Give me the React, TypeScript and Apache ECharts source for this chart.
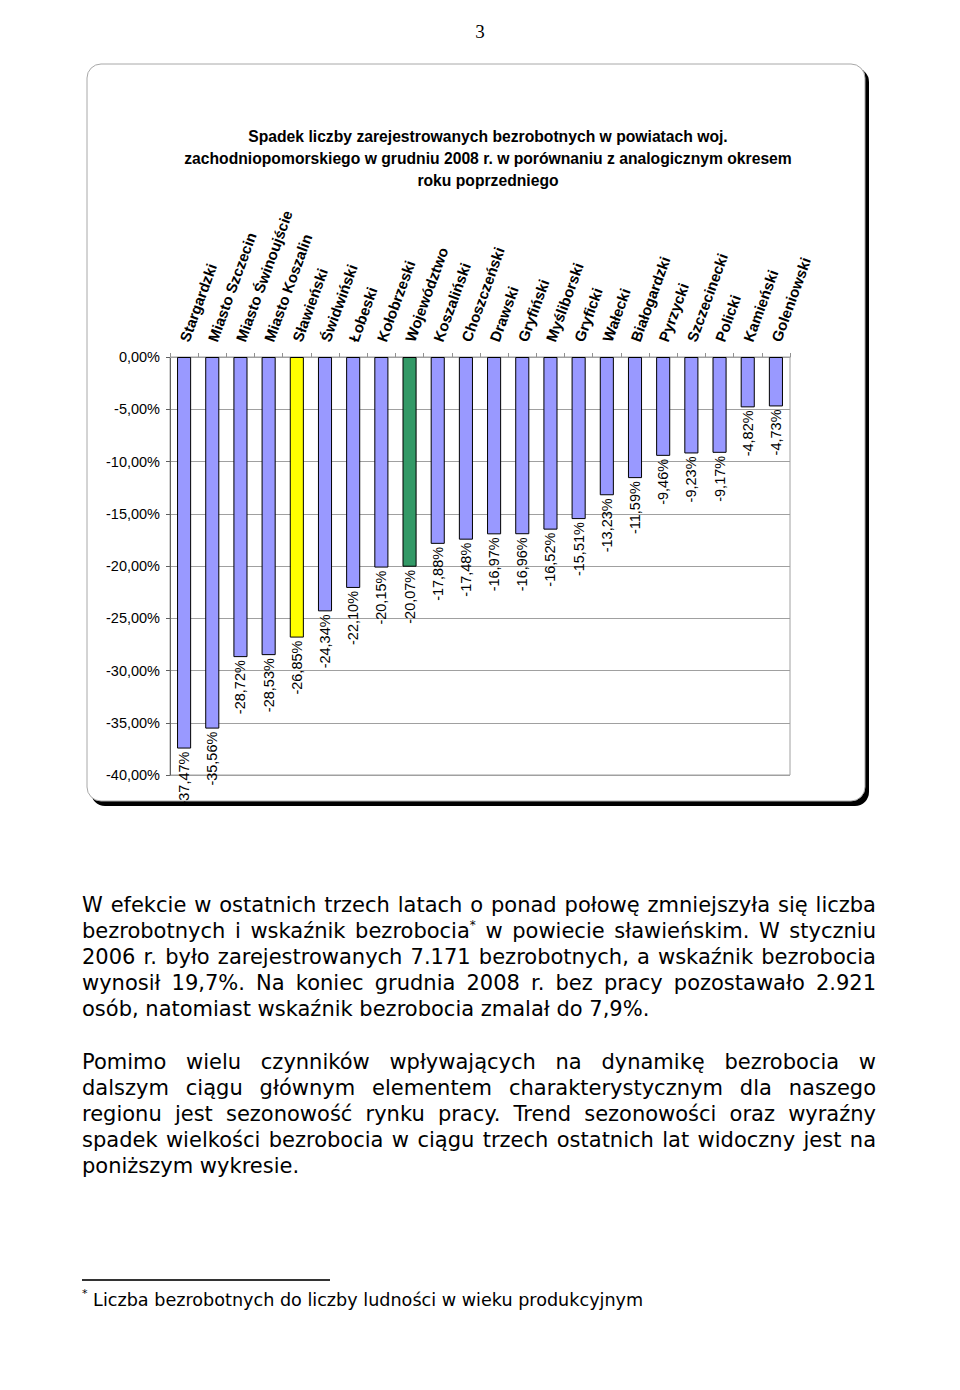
import React, { useEffect, useRef } from "react";
import * as echarts from "echarts";

const categories = [
  "Stargardzki", "Miasto Szczecin", "Miasto Świnoujście", "Miasto Koszalin", "Sławieński",
  "Świdwiński", "Łobeski", "Kołobrzeski", "Województwo", "Koszaliński", "Choszczeński",
  "Drawski", "Gryfiński", "Myśliborski", "Gryficki", "Wałecki", "Białogardzki",
  "Pyrzycki", "Szczecinecki", "Policki", "Kamieński", "Goleniowski",
];
const values = [
  -37.47, -35.56, -28.72, -28.53, -26.85, -24.34, -22.1, -20.15, -20.07, -17.88, -17.48,
  -16.97, -16.96, -16.52, -15.51, -13.23, -11.59, -9.46, -9.23, -9.17, -4.82, -4.73,
];
const specialColors: Record<string, string> = { "Sławieński": "#FFFF00", "Województwo": "#339966" };
const baseColor = "#9999FF";
const yMin = -40;
const yMax = 0;
const yStep = 5;

const titleLines = [
  "Spadek liczby zarejestrowanych bezrobotnych w powiatach woj.",
  "zachodniopomorskiego w grudniu 2008 r. w porównaniu z analogicznym okresem",
  "roku poprzedniego",
];

const para1 = [
  "W efekcie w ostatnich trzech latach o ponad połowę zmniejszyła się liczba",
  "bezrobotnych i wskaźnik bezrobocia|* w powiecie sławieńskim. W styczniu",
  "2006 r. było zarejestrowanych 7.171 bezrobotnych, a wskaźnik bezrobocia",
  "wynosił 19,7%. Na koniec grudnia 2008 r. bez pracy pozostawało 2.921",
  "osób, natomiast wskaźnik bezrobocia zmalał do 7,9%.",
];
const para2 = [
  "Pomimo wielu czynników wpływających na dynamikę bezrobocia w",
  "dalszym ciągu głównym elementem charakterystycznym dla naszego",
  "regionu jest sezonowość rynku pracy. Trend sezonowości oraz wyraźny",
  "spadek wielkości bezrobocia w ciągu trzech ostatnich lat widoczny jest na",
  "poniższym wykresie.",
];
const footnote = "Liczba bezrobotnych do liczby ludności w wieku produkcyjnym";

const fmt = (v: number) => v.toFixed(2).replace(".", ",") + "%";

function Line({ text, last }: { text: string; last: boolean }) {
  const parts = text.split("|");
  const content =
    parts.length > 1 ? (
      <>
        {parts[0]}
        <sup style={{ fontSize: "12px", verticalAlign: "top", lineHeight: "14px" }}>{parts[1].slice(0, 1)}</sup>
        {parts[1].slice(1)}
      </>
    ) : (
      text
    );
  return (
    <div
      style={{
        textAlign: last ? "left" : "justify",
        textAlignLast: last ? "left" : "justify",
        whiteSpace: "nowrap",
        height: 26,
      } as React.CSSProperties}
    >
      {content}
    </div>
  );
}

function Chart() {
  const ref = useRef<HTMLDivElement>(null);
  useEffect(() => {
    if (!ref.current) return;
    const chart = echarts.init(ref.current, undefined, { renderer: "svg" });
    const font = "Liberation Sans, Arial, sans-serif";
    chart.setOption({
      animation: false,
      graphic: [
        { type: "rect", z: -20, shape: { x: 91, y: 68, width: 778, height: 738, r: 14 }, style: { fill: "#000" } },
        { type: "rect", z: -19, shape: { x: 87, y: 64, width: 778, height: 737, r: 14 }, style: { fill: "#fff", stroke: "#a8a8a8", lineWidth: 1 } },
      ],
      title: {
        text: titleLines.join("\n"),
        left: 483,
        textAlign: "center",
        top: 120,
        textStyle: { fontFamily: font, fontSize: 15.7, fontWeight: "bold", lineHeight: 22, color: "#000" },
      },
      grid: { left: 170, right: 170, top: 357, bottom: 45, show: true, borderColor: "#A0A0A0", borderWidth: 1 },
      xAxis: {
        type: "category",
        position: "top",
        data: categories,
        axisLine: { show: true, lineStyle: { color: "#A0A0A0" } },
        axisTick: { show: true, length: 4, lineStyle: { color: "#909090" } },
        axisLabel: {
          interval: 0,
          rotate: 70,
          margin: 16,
          fontSize: 15,
          fontWeight: "bold",
          fontFamily: font,
          color: "#000",
        },
        splitLine: { show: false },
      },
      yAxis: {
        type: "value",
        min: yMin,
        max: yMax,
        interval: yStep,
        axisLine: { show: true, lineStyle: { color: "#606060" } },
        axisTick: { show: true, length: 4, lineStyle: { color: "#606060" } },
        axisLabel: { formatter: (v: number) => fmt(v), fontSize: 14.5, color: "#000", margin: 10, fontFamily: font },
        splitLine: { show: true, lineStyle: { color: "#A0A0A0", width: 1 } },
      },
      series: [
        {
          type: "bar",
          barWidth: "50%",
          data: values.map((v, i) => ({
            value: v,
            itemStyle: { color: specialColors[categories[i]] || baseColor, borderColor: "#000", borderWidth: 1 },
          })),
          label: {
            show: true,
            position: "bottom",
            distance: 3,
            rotate: 90,
            align: "right",
            verticalAlign: "middle",
            fontSize: 14.5,
            color: "#000",
            fontFamily: font,
            formatter: (p: any) => fmt(p.value),
          },
        },
      ],
    });
    return () => chart.dispose();
  }, []);
  return <div ref={ref} style={{ position: "absolute", left: 0, top: 0, width: 960, height: 820 }} />;
}

export default function App() {
  const bodyFont = "'DejaVu Sans', Verdana, sans-serif";
  return (
    <div style={{ position: "absolute", left: 0, top: 0, width: 960, height: 1390, background: "#fff", overflow: "hidden" }}>
      <Chart />
      <div style={{ position: "absolute", left: 430, width: 100, top: 21, textAlign: "center", fontFamily: "'Liberation Serif', serif", fontSize: 19, color: "#000" }}>3</div>
      <div style={{ position: "absolute", left: 82, top: 892, width: 794, fontFamily: bodyFont, fontSize: 21, lineHeight: "26px", color: "#000" }}>
        {para1.map((t, i) => (
          <Line key={i} text={t} last={i === para1.length - 1} />
        ))}
      </div>
      <div style={{ position: "absolute", left: 82, top: 1049, width: 794, fontFamily: bodyFont, fontSize: 21, lineHeight: "26px", color: "#000" }}>
        {para2.map((t, i) => (
          <Line key={i} text={t} last={i === para2.length - 1} />
        ))}
      </div>
      <div style={{ position: "absolute", left: 82, top: 1279, width: 248, height: 2, background: "#333" }} />
      <div style={{ position: "absolute", left: 82, top: 1288, fontFamily: bodyFont, fontSize: 17.6, lineHeight: "24px", color: "#000", whiteSpace: "nowrap" }}>
        <sup style={{ fontSize: 11, verticalAlign: "top", lineHeight: "12px" }}>*</sup> {footnote}
      </div>
    </div>
  );
}
